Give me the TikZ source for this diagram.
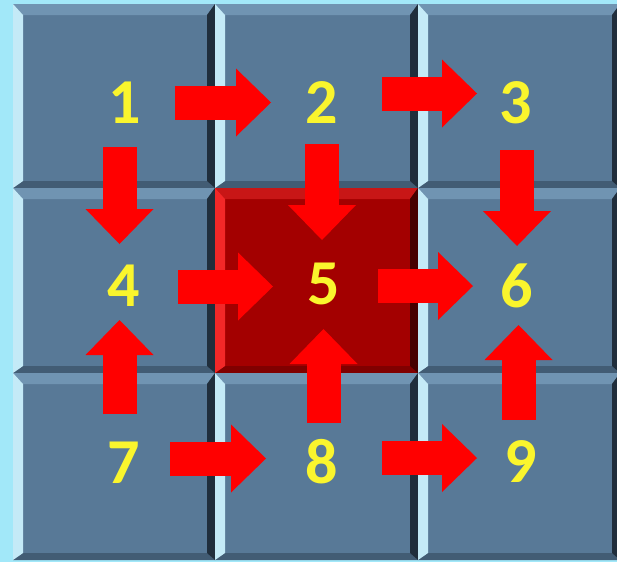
\documentclass[tikz,border=0pt]{standalone}
\usepackage{fontspec}
\setmainfont{Carlito}
\usetikzlibrary{arrows.meta}
\definecolor{bg}{RGB}{162,232,249}
\definecolor{tface}{RGB}{88,121,151}
\definecolor{ttop}{RGB}{112,148,178}
\definecolor{tleft}{RGB}{196,234,247}
\definecolor{tright}{RGB}{32,46,60}
\definecolor{tbot}{RGB}{66,92,116}
\definecolor{rface}{RGB}{163,0,0}
\definecolor{rtop}{RGB}{200,22,22}
\definecolor{rleft}{RGB}{242,40,40}
\definecolor{rright}{RGB}{70,0,0}
\definecolor{rbot}{RGB}{128,0,0}
\definecolor{arrowred}{RGB}{255,0,0}
\definecolor{digityellow}{RGB}{250,245,45}
\newcommand\mytile[5]{%
  \fill[#5face] (#1,#2) rectangle (#3,#4);
  \fill[#5top] (#1,#2) -- (#3,#2) -- ({#3-8},{#2+11}) -- ({#1+10},{#2+11}) -- cycle;
  \fill[#5bot] (#1,#4) -- (#3,#4) -- ({#3-8},{#4-7}) -- ({#1+10},{#4-7}) -- cycle;
  \fill[#5left] (#1,#2) -- ({#1+10},{#2+11}) -- ({#1+10},{#4-7}) -- (#1,#4) -- cycle;
  \fill[#5right] (#3,#2) -- ({#3-8},{#2+11}) -- ({#3-8},{#4-7}) -- (#3,#4) -- cycle;
}
\tikzset{
  digit/.style={text=digityellow, inner sep=0pt, font=\fontsize{64}{64}\selectfont\bfseries},
  blk/.style={draw=arrowred, line width=34pt,
    -{Triangle[width=68pt 0 0, length=35pt 0 0, line width=0pt 0 0, color=arrowred, fill=arrowred]}}
}
\begin{document}
\begin{tikzpicture}[x=1pt,y=-1pt]
\useasboundingbox (0,0) rectangle (617,562);
\fill[bg] (0,0) rectangle (617,562);
% tiles
\mytile{13}{4}{215}{188}{t}
\mytile{215}{4}{418}{188}{t}
\mytile{418}{4}{620}{188}{t}
\mytile{13}{188}{215}{373}{t}
\mytile{215}{188}{418}{373}{r}
\mytile{418}{188}{620}{373}{t}
\mytile{13}{373}{215}{560}{t}
\mytile{215}{373}{418}{560}{t}
\mytile{418}{373}{620}{560}{t}
% digits
\node[digit] (n1) at (124.5,102.5) {1};
\node[digit] (n2) at (322,102.5) {2};
\node[digit] (n3) at (516,102.5) {3};
\node[digit] (n4) at (124,286) {4};
\node[digit] (n5) at (324,284) {5};
\node[digit] (n6) at (517,286) {6};
\node[digit] (n7) at (124,463) {7};
\node[digit] (n8) at (322,462) {8};
\node[digit] (n9) at (521,462) {9};
% arrows
\draw[blk] ([shift={(50.5,0)}]n1.center) -- ([shift={(-51,0)}]n2.center);
\draw[blk] ([shift={(60,-9)}]n2.center) -- ([shift={(-39,-9)}]n3.center);
\draw[blk] ([shift={(-5,44.5)}]n1.center) -- ([shift={(-4.5,-42)}]n4.center);
\draw[blk] ([shift={(0,41.5)}]n2.center) -- ([shift={(-2,-44)}]n5.center);
\draw[blk] ([shift={(1,47.5)}]n3.center) -- ([shift={(0,-40)}]n6.center);
\draw[blk] ([shift={(54,0.5)}]n4.center) -- ([shift={(-51,2.5)}]n5.center);
\draw[blk] ([shift={(54,2)}]n5.center) -- ([shift={(-44,0)}]n6.center);
\draw[blk] ([shift={(-4.5,-49)}]n7.center) -- ([shift={(-4.5,34)}]n4.center);
\draw[blk] ([shift={(1.5,-39)}]n8.center) -- ([shift={(-0.5,45)}]n5.center);
\draw[blk] ([shift={(-2.5,-42)}]n9.center) -- ([shift={(1.5,39)}]n6.center);
\draw[blk] ([shift={(46,-4.5)}]n7.center) -- ([shift={(-56,-3.5)}]n8.center);
\draw[blk] ([shift={(60,-4)}]n8.center) -- ([shift={(-44,-4)}]n9.center);
\end{tikzpicture}
\end{document}
